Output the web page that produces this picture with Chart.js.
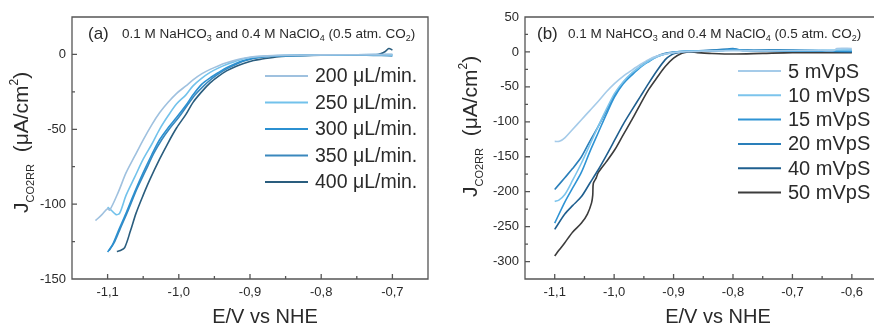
<!DOCTYPE html>
<html>
<head>
<meta charset="utf-8">
<script src="https://cdn.jsdelivr.net/npm/chart.js@4/dist/chart.umd.min.js"></script>
<style>
  html, body { margin: 0; padding: 0; background: #fff; overflow: hidden; }
  .panel { position: absolute; top: 0; height: 327px; }
  #panelA { left: 0; width: 440px; }
  #panelB { left: 440px; width: 440px; }
</style>
</head>
<body>
<div class="panel" id="panelA"><canvas id="chartA"></canvas></div>
<div class="panel" id="panelB"><canvas id="chartB"></canvas></div>
<script>
// panel (a): flow rates, [E (V vs NHE), J (uA/cm2)]
const flowLabels = ['200 \u03bcL/min.', '250 \u03bcL/min.', '300 \u03bcL/min.', '350 \u03bcL/min.', '400 \u03bcL/min.'];
const flowColors = ['#9fc1df', '#72c2eb', '#2b90d1', '#3a88bd', '#2a5d7e'];

const flow200 = [[-1.117, -111], [-1.108, -107], [-1.1, -103], [-1.097, -104], [-1.085, -92], [-1.074, -79],
  [-1.062, -68], [-1.05, -57], [-1.038, -47], [-1.027, -39], [-1.015, -32], [-1.003, -26], [-0.99, -21],
  [-0.98, -17], [-0.968, -13], [-0.956, -10], [-0.944, -7.5], [-0.933, -5.6], [-0.92, -3.8], [-0.909, -2.5],
  [-0.89, -1.3], [-0.86, -0.6], [-0.8, -0.3], [-0.75, -0.2], [-0.7, 0]];
const flow250 = [[-1.1, -102], [-1.095, -104], [-1.088, -107], [-1.083, -106], [-1.074, -94], [-1.062, -82],
  [-1.05, -70], [-1.038, -60], [-1.027, -50], [-1.015, -41], [-1.003, -33], [-0.99, -27], [-0.98, -21],
  [-0.968, -16], [-0.956, -12], [-0.944, -9], [-0.933, -6.7], [-0.92, -4.5], [-0.909, -2.9], [-0.89, -1.5],
  [-0.86, -0.7], [-0.8, -0.4], [-0.75, -0.2], [-0.7, -0.5]];
const flow300 = [[-1.1, -132], [-1.093, -127], [-1.085, -118], [-1.074, -106], [-1.062, -92], [-1.05, -79],
  [-1.038, -67], [-1.027, -57], [-1.015, -49], [-1.003, -42], [-0.99, -34], [-0.98, -27], [-0.968, -20],
  [-0.956, -15.6], [-0.944, -12], [-0.933, -8.9], [-0.92, -6], [-0.909, -4], [-0.89, -2], [-0.86, -0.9],
  [-0.8, -0.4], [-0.75, -0.2], [-0.7, 0]];
const flow350 = [[-1.098, -131], [-1.09, -125], [-1.082, -116], [-1.071, -104], [-1.059, -90], [-1.047, -78],
  [-1.035, -66], [-1.024, -57], [-1.012, -49], [-1.0, -42], [-0.988, -34], [-0.977, -27], [-0.965, -21],
  [-0.953, -16], [-0.941, -12], [-0.93, -9], [-0.917, -6], [-0.906, -4], [-0.887, -2], [-0.857, -1],
  [-0.8, -0.5], [-0.75, -0.3], [-0.7, -1]];
const flow400 = [[-1.087, -131.6], [-1.082, -131], [-1.076, -129], [-1.068, -118], [-1.06, -106], [-1.05, -94],
  [-1.041, -84], [-1.027, -70], [-1.015, -59], [-1.003, -49], [-0.99, -40], [-0.98, -32], [-0.968, -25],
  [-0.956, -19], [-0.944, -14.5], [-0.933, -11], [-0.92, -8], [-0.909, -6], [-0.895, -4], [-0.886, -3.3],
  [-0.86, -1.5], [-0.83, -0.8], [-0.8, -0.5], [-0.75, -0.3], [-0.72, 0], [-0.71, 2], [-0.705, 4], [-0.7, 3]];

// panel (b): scan rates
const scanLabels = ['5 mVpS', '10 mVpS', '15 mVpS', '20 mVpS', '40 mVpS', '50 mVpS'];
const scanColors = ['#a5cbe9', '#7cc4ec', '#2e93d4', '#2a7fba', '#1f5f8f', '#3c3c3c'];

const scan5 = [[-1.1, -128], [-1.092, -128], [-1.083, -123], [-1.07, -111], [-1.055, -97], [-1.041, -84],
  [-1.027, -71], [-1.013, -57], [-0.999, -45], [-0.985, -35], [-0.97, -26], [-0.956, -18], [-0.942, -11],
  [-0.928, -6], [-0.914, -3], [-0.9, -1], [-0.886, 0], [-0.85, 1], [-0.8, 2], [-0.75, 1.5], [-0.7, 2],
  [-0.65, 2], [-0.63, 2], [-0.625, 5], [-0.6, 5]];
const scan10 = [[-1.1, -214], [-1.093, -212], [-1.083, -204], [-1.07, -184], [-1.055, -159], [-1.041, -133],
  [-1.027, -107], [-1.013, -82], [-0.999, -59], [-0.985, -43], [-0.97, -30], [-0.956, -21], [-0.942, -13],
  [-0.928, -7], [-0.914, -3], [-0.9, -1], [-0.88, 1], [-0.8, 2], [-0.7, 2], [-0.6, 3]];
const scan15 = [[-1.1, -245], [-1.083, -215], [-1.07, -195], [-1.055, -172], [-1.041, -143], [-1.027, -116],
  [-1.013, -89], [-0.999, -64], [-0.985, -46], [-0.97, -33], [-0.956, -22], [-0.942, -14], [-0.928, -7],
  [-0.914, -3], [-0.9, -0.5], [-0.88, 1], [-0.82, 2], [-0.8, 4], [-0.78, 2], [-0.7, 1], [-0.6, 1]];
const scan20 = [[-1.1, -197], [-1.083, -180], [-1.07, -167], [-1.055, -150], [-1.041, -128], [-1.027, -107],
  [-1.013, -84], [-0.999, -61], [-0.985, -44], [-0.97, -31], [-0.956, -21], [-0.942, -12], [-0.928, -6],
  [-0.914, -2], [-0.9, 0], [-0.85, 2], [-0.81, 4], [-0.8, 5], [-0.79, 3], [-0.7, 3], [-0.65, 2], [-0.6, 1]];
const scan40 = [[-1.1, -254], [-1.083, -232], [-1.07, -220], [-1.055, -207], [-1.041, -188], [-1.027, -169],
  [-1.013, -148], [-0.999, -126], [-0.985, -104], [-0.97, -83], [-0.956, -64], [-0.942, -45], [-0.928, -27],
  [-0.914, -11], [-0.905, -5], [-0.897, -2], [-0.885, 0], [-0.85, 1], [-0.8, 3], [-0.75, 1], [-0.7, 2], [-0.6, 0]];
const scan50 = [[-1.1, -292], [-1.093, -284], [-1.083, -273], [-1.07, -258], [-1.055, -245], [-1.045, -232],
  [-1.038, -216], [-1.036, -205], [-1.035, -188], [-1.03, -180], [-1.027, -173], [-1.013, -157], [-0.999, -140],
  [-0.985, -119], [-0.97, -97], [-0.956, -75], [-0.942, -54], [-0.928, -37], [-0.914, -21], [-0.9, -9],
  [-0.886, -2], [-0.875, 0], [-0.86, -1], [-0.84, -2], [-0.8, -3], [-0.75, -2], [-0.7, -1], [-0.65, -1], [-0.6, -1]];

// tick values
const xMajorA = [-1.1, -1.0, -0.9, -0.8, -0.7];
const xMinorA = [-1.05, -0.95, -0.85, -0.75, -0.65];
const yMajorA = [0, -50, -100, -150];
const yMinorA = [-25, -75, -125];
const xMajorB = [-1.1, -1.0, -0.9, -0.8, -0.7, -0.6];
const xMinorB = [-1.05, -0.95, -0.85, -0.75, -0.65];
const yMajorB = [50, 0, -50, -100, -150, -200, -250, -300];
const yMinorB = [25, -25, -75, -125, -175, -225, -275];

const FONT = '"Liberation Sans", Arial, sans-serif';
const TXT = '#2a2a2a';

// frame, inward ticks, labels, legend and axis titles
const framePlugin = {
    id: 'frame',
    afterDraw(chart, args, o) {
        const { ctx, chartArea: a, scales: { x, y } } = chart;
        ctx.save();
        ctx.strokeStyle = '#555';
        ctx.lineWidth = 1.3;
        ctx.beginPath();
        ctx.moveTo(a.left, a.top);
        ctx.lineTo(a.left, a.bottom);
        ctx.lineTo(a.right, a.bottom);
        if (o.closed) {
            ctx.lineTo(a.right, a.top);
            ctx.closePath();
        } else {
            ctx.moveTo(a.left, a.top);
            ctx.lineTo(a.right, a.top);
        }
        o.xMajor.forEach(v => { const p = x.getPixelForValue(v); ctx.moveTo(p, a.bottom); ctx.lineTo(p, a.bottom - 5); });
        o.xMinor.forEach(v => { const p = x.getPixelForValue(v); ctx.moveTo(p, a.bottom); ctx.lineTo(p, a.bottom - 3); });
        o.yMajor.forEach(v => { const p = y.getPixelForValue(v); ctx.moveTo(a.left, p); ctx.lineTo(a.left + 5, p); });
        o.yMinor.forEach(v => { const p = y.getPixelForValue(v); ctx.moveTo(a.left, p); ctx.lineTo(a.left + 3, p); });
        ctx.stroke();

        ctx.fillStyle = TXT;
        ctx.textBaseline = 'alphabetic';
        ctx.textAlign = 'left';

        // panel tag and electrolyte note
        ctx.font = '17px ' + FONT;
        ctx.fillText(o.tag, o.tagX, 39);
        let tx = o.noteX;
        const note = [['0.1 M NaHCO', 0], ['3', 1], [' and 0.4 M NaClO', 0], ['4', 1], [' (0.5 atm. CO', 0], ['2', 1], [')', 0]];
        note.forEach(([s, sub]) => {
            ctx.font = (sub ? '9px ' : '13.5px ') + FONT;
            ctx.fillText(s, tx, sub ? 41 : 38);
            tx += ctx.measureText(s).width;
        });

        // legend
        chart.data.datasets.forEach((ds, i) => {
            const ly = o.legY + i * o.legDy;
            ctx.strokeStyle = ds.borderColor;
            ctx.lineWidth = 2;
            ctx.beginPath();
            ctx.moveTo(o.legX, ly);
            ctx.lineTo(o.legX + 43, ly);
            ctx.stroke();
            ctx.font = o.legFont + 'px ' + FONT;
            ctx.textBaseline = 'middle';
            ctx.fillText(ds.label, o.legX + 50, ly + 1);
        });

        // x title
        ctx.textBaseline = 'alphabetic';
        ctx.textAlign = 'center';
        ctx.font = '20px ' + FONT;
        ctx.fillText('E/V vs NHE', o.xTitleX, 323);

        // y title, rotated, with subscript and superscript
        ctx.translate(o.yTitleX, o.yTitleY);
        ctx.rotate(-Math.PI / 2);
        ctx.textAlign = 'left';
        const parts = [['J', 21, 0], ['CO2RR', 11, 6], ['  (\u03bcA/cm', 21, 0], ['2', 12, -10], [')', 21, 0]];
        let px = 0;
        parts.forEach(([s, size, dy]) => {
            ctx.font = size + 'px ' + FONT;
            ctx.fillText(s, px, dy);
            px += ctx.measureText(s).width;
        });
        ctx.restore();
    }
};
Chart.register(framePlugin);

function makeSeries(list, labels, colors) {
    return list.map((pts, i) => ({
        label: labels[i],
        data: pts.map(([e, j]) => ({ x: e, y: j })),
        borderColor: colors[i],
        borderWidth: 1.6,
        pointRadius: 0,
        tension: 0.3,
        fill: false
    }));
}

function makeChart(id, datasets, s) {
    const ctx = document.getElementById(id).getContext('2d');
    return new Chart(ctx, {
        type: 'line',
        data: { datasets: datasets },
        options: {
            responsive: true,
            maintainAspectRatio: false,
            animation: false,
            layout: { padding: { top: 17, right: s.padRight, left: 0, bottom: 0 } },
            plugins: {
                legend: { display: false },
                tooltip: { enabled: false },
                frame: s.frame
            },
            scales: {
                x: {
                    type: 'linear',
                    min: -1.15,
                    max: s.xMax,
                    grid: { display: false, drawTicks: false },
                    border: { display: false },
                    afterBuildTicks: sc => { sc.ticks = s.frame.xMajor.map(v => ({ value: v })); },
                    afterFit: sc => { sc.height = 48; },
                    ticks: {
                        padding: 6,
                        color: TXT,
                        font: { family: FONT, size: 13 },
                        callback: v => v.toFixed(1).replace('.', ',')
                    }
                },
                y: {
                    min: s.yMin,
                    max: s.yMax,
                    grid: { display: false, drawTicks: false },
                    border: { display: false },
                    afterBuildTicks: sc => { sc.ticks = s.frame.yMajor.map(v => ({ value: v })); },
                    afterFit: sc => { sc.width = s.yWidth; },
                    ticks: {
                        padding: 6,
                        color: TXT,
                        font: { family: FONT, size: 13 },
                        callback: v => String(Math.round(v))
                    }
                }
            }
        }
    });
}

makeChart('chartA', makeSeries([flow200, flow250, flow300, flow350, flow400], flowLabels, flowColors), {
    padRight: 12, xMax: -0.65, yMin: -150, yMax: 25, yWidth: 72,
    frame: {
        closed: true, xMajor: xMajorA, xMinor: xMinorA, yMajor: yMajorA, yMinor: yMinorA,
        tag: '(a)', tagX: 88, noteX: 122,
        legX: 265, legY: 76, legDy: 26.5, legFont: 19.5,
        xTitleX: 265, yTitleX: 28, yTitleY: 213
    }
});

makeChart('chartB', makeSeries([scan5, scan10, scan15, scan20, scan40, scan50], scanLabels, scanColors), {
    padRight: 2, xMax: -0.556, yMin: -325, yMax: 50, yWidth: 85,
    frame: {
        closed: true, xMajor: xMajorB, xMinor: xMinorB, yMajor: yMajorB, yMinor: yMinorB,
        tag: '(b)', tagX: 97, noteX: 128,
        legX: 298, legY: 71, legDy: 24.3, legFont: 20,
        xTitleX: 278, yTitleX: 37, yTitleY: 197
    }
});
</script>
</body>
</html>
